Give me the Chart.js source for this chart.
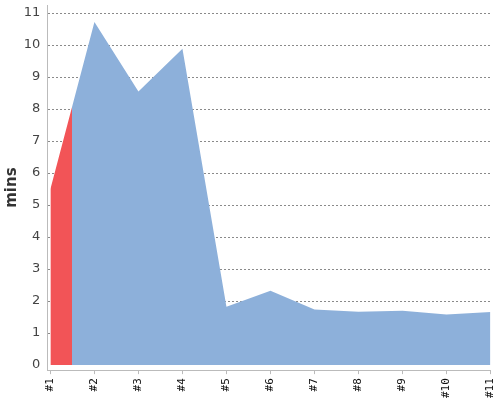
<!DOCTYPE html>
<html>
<head>
<meta charset="utf-8">
<script src="https://cdn.jsdelivr.net/npm/chart.js@4/dist/chart.umd.min.js"></script>
<style>
  body { margin: 0; background: #fff; }
  #wrap { width: 500px; height: 400px; }
</style>
</head>
<body>
<div id="wrap"><canvas id="chart"></canvas></div>
<script>
const categories = ['#1', '#2', '#3', '#4', '#5', '#6', '#7', '#8', '#9', '#10', '#11'];
const minutes = [5.5, 10.72, 8.55, 9.88, 1.82, 2.32, 1.74, 1.67, 1.7, 1.58, 1.66];
const yTicks = [0, 1, 2, 3, 4, 5, 6, 7, 8, 9, 10, 11];
// red part runs from the first point to halfway towards the second
const highlightUntil = 0.5;

const red = '#f25457';
const blue = '#8db0da';

function areaFill(context) {
    const chart = context.chart;
    const area = chart.chartArea;
    const xs = chart.scales.x;
    if (!area || !xs) return blue;
    const split = xs.getPixelForValue(highlightUntil);
    const t = Math.min(1, Math.max(0, (split - area.left) / (area.right - area.left)));
    const g = chart.ctx.createLinearGradient(area.left, 0, area.right, 0);
    g.addColorStop(0, red);
    g.addColorStop(t, red);
    g.addColorStop(t, blue);
    g.addColorStop(1, blue);
    return g;
}

const ctx = document.getElementById('chart').getContext('2d');
const chart = new Chart(ctx, {
    type: 'line',
    data: {
        datasets: [{
            label: 'mins',
            data: minutes.map((v, i) => ({ x: i, y: v })),
            backgroundColor: areaFill,
            borderWidth: 0,
            pointRadius: 0,
            pointHoverRadius: 0,
            fill: 'origin',
            tension: 0
        }]
    },
    options: {
        responsive: true,
        maintainAspectRatio: false,
        animation: false,
        layout: { padding: { top: 5, right: 9, left: -1, bottom: -2 } },
        plugins: {
            legend: { display: false },
            tooltip: { enabled: false }
        },
        scales: {
            x: {
                type: 'linear',
                min: -0.07,
                max: categories.length - 1,
                afterBuildTicks: function (scale) {
                    scale.ticks = categories.map((c, i) => ({ value: i }));
                },
                ticks: {
                    autoSkip: false,
                    minRotation: 90,
                    maxRotation: 90,
                    padding: 4,
                    color: '#111',
                    font: { family: 'DejaVu Sans Mono', size: 11, lineHeight: 0.5 },
                    callback: function (v) { return categories[v]; }
                },
                grid: {
                    drawOnChartArea: false,
                    drawTicks: true,
                    tickLength: 4,
                    color: '#bbb'
                },
                border: { color: '#bbb', width: 1 }
            },
            y: {
                min: -0.157,
                max: 11.25,
                z: 1,
                afterBuildTicks: function (scale) {
                    scale.ticks = yTicks.map(v => ({ value: v }));
                },
                ticks: {
                    padding: 0,
                    color: '#444',
                    font: { family: 'DejaVu Sans', size: 13, lineHeight: 0.6 }
                },
                grid: {
                    drawTicks: true,
                    tickLength: 7,
                    tickColor: 'rgba(0,0,0,0)',
                    color: function (c) {
                        return c.tick && c.tick.value === 0 ? 'rgba(0,0,0,0)' : '#8a8a8a';
                    },
                    lineWidth: 1
                },
                border: { color: '#bbb', width: 1, dash: [2, 2] },
                title: {
                    display: true,
                    text: 'mins',
                    color: '#333',
                    font: { family: 'DejaVu Sans', size: 15, weight: 'bold' },
                    padding: { top: 4.5, bottom: 2.3 }
                }
            }
        }
    }
});
</script>
</body>
</html>
